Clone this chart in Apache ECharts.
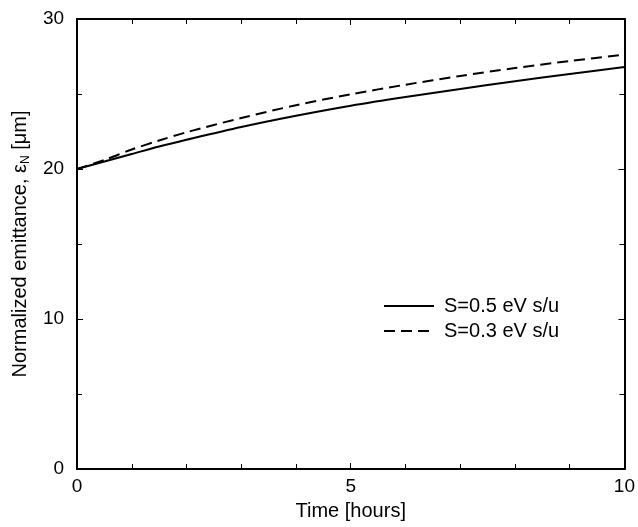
<!DOCTYPE html>
<html>
<head>
<meta charset="utf-8">
<script src="https://cdn.jsdelivr.net/npm/echarts@6/dist/echarts.min.js"></script>
<style>
  html, body { margin: 0; padding: 0; background: #fff; }
  #chart { width: 638px; height: 527px; }
</style>
</head>
<body>
<div id="chart"></div>
<script>
// Emittance growth over a 10-hour store for two values of S
const timeHours = [0, 0.5, 1, 1.5, 2, 3, 4, 5, 6, 7, 8, 9, 10];
const emitS05 = [20, 20.5, 21.0, 21.5, 21.95, 22.8, 23.55, 24.22, 24.8, 25.33, 25.85, 26.33, 26.8];
const emitS03 = [20, 20.6, 21.3, 21.9, 22.45, 23.4, 24.25, 24.98, 25.62, 26.2, 26.73, 27.2, 27.63];
const seriesNames = ['S=0.5 eV s/u', 'S=0.3 eV s/u'];

const FONT = 'Liberation Sans, Arial, Helvetica, sans-serif';
const DASH = [11, 6];
const pairs = (xs, ys) => xs.map((x, i) => [x, ys[i]]);

const frameLine = { show: true, onZero: false, lineStyle: { color: '#000', width: 2 } };
const tickIn = { show: true, inside: true, length: 6, lineStyle: { color: '#000', width: 1 } };
const minorX = { show: true, splitNumber: 5, length: 5, lineStyle: { color: '#000', width: 1 } };
const minorY = { show: true, splitNumber: 2, length: 5, lineStyle: { color: '#000', width: 1 } };
const tickLabel = { fontFamily: FONT, fontSize: 19, color: '#000' };

const chart = echarts.init(document.getElementById('chart'));
chart.setOption({
  backgroundColor: '#fff',
  animation: false,
  grid: { left: 76, right: 12, top: 19, bottom: 58 },
  legend: {
    orient: 'vertical',
    left: 383, top: 296, padding: 0,
    itemWidth: 50, itemHeight: 14, itemGap: 5,
    itemStyle: { opacity: 0 },
    textStyle: { fontFamily: FONT, fontSize: 20, color: '#000', padding: [0, 0, 0, 5] },
    data: seriesNames
  },
  xAxis: [{
    type: 'value', min: 0, max: 10, interval: 5,
    name: 'Time [hours]', nameLocation: 'middle', nameGap: 32,
    nameTextStyle: { fontFamily: FONT, fontSize: 20, color: '#000' },
    axisLine: frameLine, axisTick: tickIn, minorTick: minorX,
    axisLabel: Object.assign({ margin: 8 }, tickLabel),
    splitLine: { show: false }
  }, {
    type: 'value', min: 0, max: 10, interval: 5, position: 'top',
    axisLine: frameLine, axisTick: tickIn, minorTick: minorX,
    axisLabel: { show: false }, splitLine: { show: false }
  }],
  yAxis: [{
    type: 'value', min: 0, max: 30, interval: 10,
    name: 'Normalized emittance, ε{sub|N} [μm]', nameLocation: 'middle', nameGap: 42,
    nameRotate: 90,
    nameTextStyle: {
      fontFamily: FONT, fontSize: 20, color: '#000', lineHeight: 24,
      rich: { sub: { fontFamily: FONT, fontSize: 12, color: '#000', lineHeight: 12, verticalAlign: 'bottom' } }
    },
    axisLine: frameLine, axisTick: tickIn, minorTick: minorY,
    axisLabel: Object.assign({ margin: 13 }, tickLabel),
    splitLine: { show: false }
  }, {
    type: 'value', min: 0, max: 30, interval: 10, position: 'right',
    axisLine: frameLine, axisTick: tickIn, minorTick: minorY,
    axisLabel: { show: false }, splitLine: { show: false }
  }],
  series: [{
    name: seriesNames[0], type: 'line', smooth: 0.3, symbol: 'none',
    data: pairs(timeHours, emitS05),
    lineStyle: { color: '#000', width: 2, type: 'solid' },
    itemStyle: { color: '#000' }
  }, {
    name: seriesNames[1], type: 'line', smooth: 0.3, symbol: 'none',
    data: pairs(timeHours, emitS03),
    lineStyle: { color: '#000', width: 2, type: DASH },
    itemStyle: { color: '#000' }
  }]
});
</script>
</body>
</html>
